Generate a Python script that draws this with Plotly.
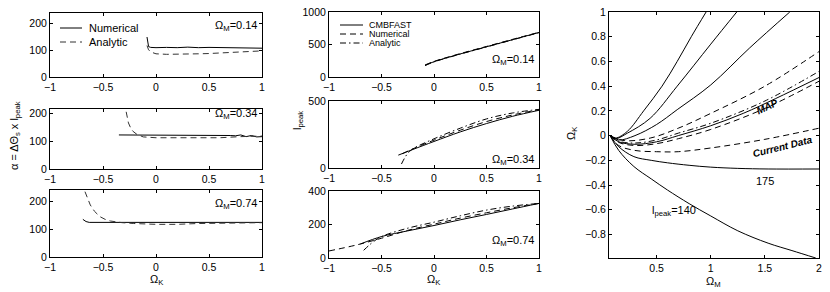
import plotly.graph_objects as go

W, H = 830, 292

# ---------------- data: left column (alpha = dTheta_s x l_peak vs Omega_K) ----------------
a14_ok_num = [-0.085, -0.08, -0.075, -0.07, -0.05, 0.0, 0.1, 0.2, 0.3, 0.4, 0.5, 0.6, 0.7, 0.8, 0.9, 1.0]
a14_num = [150, 138, 122, 114, 111, 110, 111, 110, 112, 110, 111, 110, 109, 110, 108, 108]
a14_ok_ana = [-0.085, -0.07, -0.05, -0.03, 0.0, 0.1, 0.2, 0.3, 0.4, 0.5, 0.6, 0.7, 0.8, 0.9, 1.0]
a14_ana = [118, 102, 94, 90, 87, 85, 85, 86, 87, 88, 90, 92, 94, 96, 98]

a34_ok_num = [-0.35, 0.0, 0.3, 0.6, 0.7, 0.75, 0.8, 0.85, 0.9, 0.95, 1.0]
a34_num = [122, 122, 122, 121, 120, 119, 122, 116, 120, 115, 116]
a34_ok_ana = [-0.30, -0.28, -0.26, -0.24, -0.22, -0.18, -0.12, 0.0, 0.3, 0.6, 0.8, 0.9, 1.0]
a34_ana = [240, 195, 165, 148, 136, 124, 115, 112, 111, 112, 116, 117, 118]

a74_ok_num = [-0.69, -0.66, -0.63, -0.5, 0.0, 0.5, 1.0]
a74_num = [136, 128, 125, 125, 125, 125, 125]
a74_ok_ana = [-0.67, -0.64, -0.62, -0.58, -0.53, -0.48, -0.43, -0.32, -0.21, 0.0, 0.2, 0.4, 0.6, 0.8, 1.0]
a74_ana = [236, 205, 188, 165, 146, 136, 130, 124, 121, 118, 118, 121, 122, 123, 124]

# ---------------- data: middle column (l_peak vs Omega_K) ----------------
l14_ok = [-0.085, 0.0, 0.25, 0.5, 0.75, 1.0]
l14_cmb = [180, 235, 355, 465, 575, 685]
l14_num = [185, 240, 360, 470, 580, 688]
l14_ana = [175, 232, 352, 462, 572, 682]

l34_ok_cmb = [-0.34, -0.2, 0.0, 0.25, 0.5, 0.75, 1.0]
l34_cmb = [97, 140, 200, 272, 335, 390, 435]
l34_ok_num = [-0.30, -0.2, 0.0, 0.25, 0.5, 0.75, 1.0]
l34_num = [108, 145, 210, 285, 350, 400, 440]
l34_ok_ana = [-0.31, -0.28, -0.25, -0.2, 0.0, 0.25, 0.5, 0.75, 1.0]
l34_ana = [30, 75, 110, 145, 220, 300, 370, 415, 442]

l74_ok_cmb = [-0.70, -0.5, -0.25, 0.0, 0.25, 0.5, 0.75, 1.0]
l74_cmb = [84, 128, 162, 194, 228, 260, 293, 326]
l74_ok_num = [-1.0, -0.75, -0.5, -0.25, 0.0, 0.25, 0.5, 0.75, 1.0]
l74_num = [42, 76, 118, 165, 202, 238, 270, 300, 326]
l74_ok_ana = [-0.67, -0.62, -0.58, -0.5, -0.25, 0.0, 0.25, 0.5, 0.75, 1.0]
l74_ana = [46, 75, 96, 128, 178, 214, 252, 286, 310, 326]

# ---------------- data: right panel (Omega_K vs Omega_M contours) ----------------
om_A = [0.07, 0.12, 0.23, 0.38, 0.55, 0.69, 0.82, 0.957]
ok_A = [0.0, -0.02, 0.035, 0.2, 0.4, 0.6, 0.8, 1.0]
om_B = [0.07, 0.12, 0.23, 0.44, 0.69, 1.0, 1.24]
ok_B = [0.0, -0.025, 0.02, 0.14, 0.40, 0.74, 1.0]
om_C = [0.07, 0.15, 0.3, 0.5, 0.69, 1.0, 1.36, 1.73]
ok_C = [0.0, -0.035, 0.0, 0.09, 0.21, 0.41, 0.71, 1.0]
om_D = [0.07, 0.15, 0.3, 0.5, 0.7, 1.0, 1.3, 1.6, 2.0]
ok_D = [0.0, -0.05, -0.07, -0.05, 0.0, 0.08, 0.18, 0.30, 0.47]
om_Map_hi = [0.07, 0.15, 0.3, 0.5, 0.7, 1.0, 1.5, 2.0]
ok_Map_hi = [0.0, -0.045, -0.06, -0.035, 0.02, 0.10, 0.28, 0.52]
om_Map_lo = [0.07, 0.15, 0.3, 0.5, 0.7, 1.0, 1.5, 2.0]
ok_Map_lo = [0.0, -0.055, -0.08, -0.065, -0.025, 0.05, 0.22, 0.44]
om_Cur_hi = [0.07, 0.2, 0.44, 0.7, 1.0, 1.5, 2.0]
ok_Cur_hi = [0.0, -0.04, -0.02, 0.06, 0.18, 0.40, 0.68]
om_Cur_lo = [0.07, 0.15, 0.3, 0.5, 0.7, 1.0, 1.5, 2.0]
ok_Cur_lo = [0.0, -0.08, -0.12, -0.13, -0.13, -0.10, -0.03, 0.06]
om_175 = [0.07, 0.15, 0.29, 0.45, 0.6, 0.8, 1.0, 1.25, 1.53, 2.0]
ok_175 = [0.0, -0.09, -0.17, -0.20, -0.22, -0.24, -0.255, -0.265, -0.27, -0.27]
om_140 = [0.07, 0.15, 0.29, 0.45, 0.6, 0.8, 1.0, 1.25, 1.53, 1.75, 1.97]
ok_140 = [0.0, -0.12, -0.25, -0.35, -0.44, -0.55, -0.65, -0.77, -0.87, -0.93, -0.99]

# tick values
left_x_ticks = [-1, -0.5, 0, 0.5, 1]
left_y_ticks = [0, 100, 200]
mid_y_ticks = [[0, 500, 1000], [0, 500], [0, 200, 400]]
right_x_ticks = [0.5, 1, 1.5, 2]
right_y_ticks = [-0.8, -0.6, -0.4, -0.2, 0, 0.2, 0.4, 0.6, 0.8, 1]

FONT = "Liberation Sans, Arial, Helvetica, sans-serif"
DASH = "6px,4px"
DASHDOT = "6px,3px,1.5px,3px"

def px_x(a, b):
    return [a / W, b / W]

def px_y(top, bottom):
    return [1 - bottom / H, 1 - top / H]

fig = go.Figure()

def line(x, y, ax, dash="solid", shape="linear", color="black"):
    fig.add_trace(go.Scatter(x=x, y=y, mode="lines", xaxis="x" + ax, yaxis="y" + ax,
                             line=dict(color=color, width=1, dash=dash, shape=shape),
                             showlegend=False, hoverinfo="skip"))

# left column
line(a14_ok_num, a14_num, "")
line(a14_ok_ana, a14_ana, "", DASH, color="#333")
line(a34_ok_num, a34_num, "2")
line(a34_ok_ana, a34_ana, "2", DASH, color="#333")
line(a74_ok_num, a74_num, "3")
line(a74_ok_ana, a74_ana, "3", DASH, color="#333")
# middle column
line(l14_ok, l14_cmb, "4", shape="spline")
line(l14_ok, l14_num, "4", DASH, "spline")
line(l14_ok, l14_ana, "4", DASHDOT, "spline")
line(l34_ok_cmb, l34_cmb, "5", shape="spline")
line(l34_ok_num, l34_num, "5", DASH, "spline")
line(l34_ok_ana, l34_ana, "5", DASHDOT, "spline")
line(l74_ok_cmb, l74_cmb, "6", shape="spline")
line(l74_ok_num, l74_num, "6", DASH, "spline")
line(l74_ok_ana, l74_ana, "6", DASHDOT, "spline")
# right panel
for xs, ys, d in [(om_A, ok_A, "solid"), (om_B, ok_B, "solid"), (om_C, ok_C, "solid"),
                  (om_D, ok_D, "solid"), (om_Map_hi, ok_Map_hi, DASHDOT),
                  (om_Map_lo, ok_Map_lo, DASH), (om_Cur_hi, ok_Cur_hi, DASH),
                  (om_Cur_lo, ok_Cur_lo, DASH), (om_175, ok_175, "solid"),
                  (om_140, ok_140, "solid")]:
    line(xs, ys, "7", d, "spline")

def axis(domain, rng, tickvals, anchor):
    return dict(domain=domain, range=rng, tickvals=tickvals, ticks="inside", ticklen=3,
                tickcolor="black", tickwidth=1, showline=True, linecolor="black", linewidth=1,
                mirror="ticks", showgrid=False, zeroline=False, anchor=anchor, automargin=False,
                tickfont=dict(family=FONT, size=10.5, color="black"))

LX = px_x(50, 262)
MX = px_x(329, 539)
RX = px_x(609, 819)

layout = dict(
    width=W, height=H, margin=dict(l=0, r=0, t=0, b=0, pad=0, autoexpand=False),
    paper_bgcolor="white", plot_bgcolor="white", showlegend=False,
    font=dict(family=FONT, size=11, color="black"),
    xaxis=axis(LX, [-1, 1], left_x_ticks, "y"),
    yaxis=axis(px_y(13, 77), [0, 240], left_y_ticks, "x"),
    xaxis2=axis(LX, [-1, 1], left_x_ticks, "y2"),
    yaxis2=axis(px_y(109, 169), [0, 215], left_y_ticks, "x2"),
    xaxis3=axis(LX, [-1, 1], left_x_ticks, "y3"),
    yaxis3=axis(px_y(190, 257), [0, 242], left_y_ticks, "x3"),
    xaxis4=axis(MX, [-1, 1], left_x_ticks, "y4"),
    yaxis4=axis(px_y(12, 77), [0, 1000], mid_y_ticks[0], "x4"),
    xaxis5=axis(MX, [-1, 1], left_x_ticks, "y5"),
    yaxis5=axis(px_y(101, 168), [0, 505], mid_y_ticks[1], "x5"),
    xaxis6=axis(MX, [-1, 1], left_x_ticks, "y6"),
    yaxis6=axis(px_y(191, 258), [0, 400], mid_y_ticks[2], "x6"),
    xaxis7=axis(RX, [0.06, 2], right_x_ticks, "y7"),
    yaxis7=axis(px_y(12, 258), [-0.99, 1], right_y_ticks, "x7"),
)
fig.update_layout(**layout)

ann = []
def text(t, x, y, xref="paper", yref="paper", size=11, xanchor="center", yanchor="middle", angle=0):
    ann.append(dict(text=t, x=x, y=y, xref=xref, yref=yref, showarrow=False, textangle=angle,
                    xanchor=xanchor, yanchor=yanchor, font=dict(family=FONT, size=size, color="black")))

# panel labels (in axis-domain coordinates)
for ax, t, yf in [("", "0.14", 0.80), ("2", "0.34", 0.92), ("3", "0.74", 0.79)]:
    text("Ω<sub>M</sub>=" + t, 0.985, yf, "x%s domain" % ax, "y%s domain" % ax, xanchor="right")
for ax, t, yf in [("4", "0.14", 0.26), ("5", "0.34", 0.12), ("6", "0.74", 0.26)]:
    text("Ω<sub>M</sub>=" + t, 0.985, yf, "x%s domain" % ax, "y%s domain" % ax, xanchor="right")

# axis titles
text("α = ΔΘ<sub>s</sub> x l<sub>peak</sub>", 15 / W, 1 - 136 / H, angle=-90)
text("l<sub>peak</sub>", 298 / W, 1 - 121 / H, angle=-90)
text("Ω<sub>K</sub>", 572 / W, 1 - 133 / H, angle=-90)
text("Ω<sub>K</sub>", 157 / W, 1 - 280 / H)
text("Ω<sub>K</sub>", 434 / W, 1 - 280 / H)
text("Ω<sub>M</sub>", 713 / W, 1 - 282 / H)

# right-panel annotations
text("<b><i>MAP</i></b>", 1.525, 0.232, "x7", "y7", size=10, angle=-25)
text("<b><i>Current Data</i></b>", 1.665, -0.087, "x7", "y7", size=10, angle=-14)
text("175", 1.50, -0.37, "x7", "y7")
text("l<sub>peak</sub>=140", 0.66, -0.61, "x7", "y7")

# legends (drawn as layout keys)
shapes = []
def key(x0, x1, y, dash, color="black"):
    shapes.append(dict(type="line", xref="paper", yref="paper", x0=x0 / W, x1=x1 / W,
                       y0=1 - y / H, y1=1 - y / H, line=dict(color=color, width=1, dash=dash)))

key(60, 82, 28, "solid")
key(60, 82, 42, DASH, "#333")
text("Numerical", 87 / W, 1 - 28 / H, xanchor="left")
text("Analytic", 87 / W, 1 - 42 / H, xanchor="left")

key(340, 363, 25, "solid")
key(340, 363, 34, DASH)
key(340, 363, 43, DASHDOT)
text("CMBFAST", 367 / W, 1 - 25 / H, size=9, xanchor="left")
text("Numerical", 367 / W, 1 - 34 / H, size=9, xanchor="left")
text("Analytic", 367 / W, 1 - 43 / H, size=9, xanchor="left")

fig.update_layout(annotations=ann, shapes=shapes)
fig.write_html("out.html", config={"displayModeBar": False, "staticPlot": True},
               post_script="document.body.style.margin='0';document.body.style.overflow='hidden';")
